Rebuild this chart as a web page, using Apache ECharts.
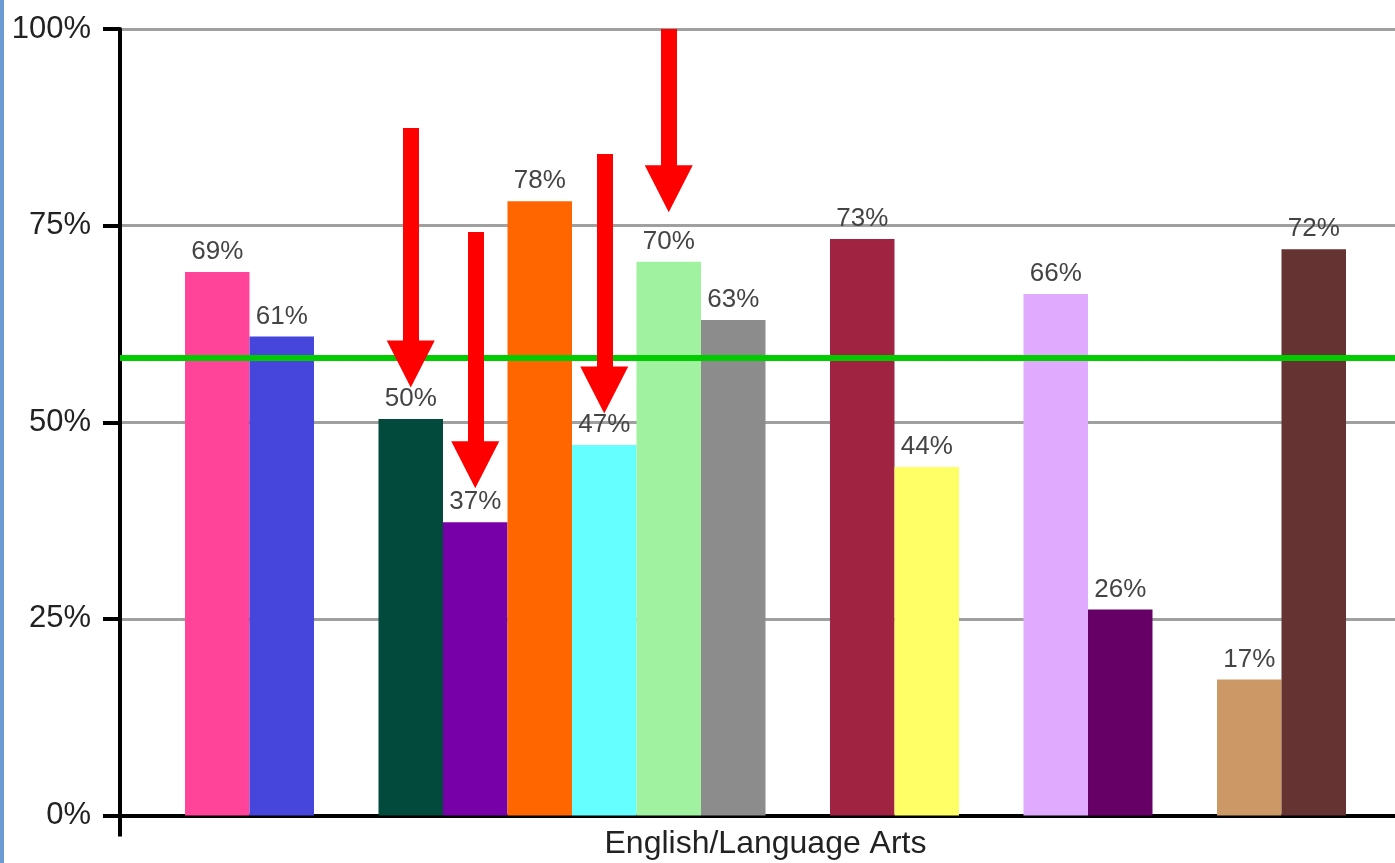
<!DOCTYPE html>
<html>
<head>
<meta charset="utf-8">
<script src="https://cdn.jsdelivr.net/npm/echarts@6/dist/echarts.min.js"></script>
<style>
  html, body { margin: 0; padding: 0; background: #fff; }
  #wrap { position: relative; width: 1395px; height: 863px; overflow: hidden; }
  #chart { width: 1395px; height: 863px; }
  #edge { position: absolute; left: 0; top: 0; width: 4px; height: 863px; background: #6b9bd1; }
</style>
</head>
<body>
<div id="wrap">
  <div id="chart"></div>
  <div id="edge"></div>
</div>
<script>
// one subject, 18 bar slots (null = empty slot between groups)
const categories = ['English/Language Arts']
const barValues = [69.1, 60.9, null, 50.4, 37.3, 78.1, 47.1, 70.4, 63.0, null, 73.3, 44.3, null, 66.3, 26.2, null, 17.3, 72.0]
const barColors = ['#ff4499', '#4646dc', '', '#024b3c', '#7800a8', '#ff6600', '#66ffff', '#a0f2a0', '#8c8c8c', '',
  '#a02442', '#ffff66', '', '#e0aaff', '#660066', '', '#cc9966', '#663333']
const yTicks = [0, 25, 50, 75, 100]
const targetLine = 58.2

// red arrows: bar slot, start value, end value
const arrowBars = [3, 4, 6, 7]
const arrowFrom = [87.4, 74.2, 84.1, 100]
const arrowTo = [57.4, 44.6, 54.1, 79.7]

const chart = echarts.init(document.getElementById('chart'))

const font = '"Liberation Sans", Arial, sans-serif'

const series = barValues.map((v, i) => {
  const s = {
    name: 'bar' + i,
    type: 'bar',
    data: [v],
    barGap: 0,
    barCategoryGap: '10.07%',
    itemStyle: { color: barColors[i] || '#fff' },
    label: {
      show: v != null,
      position: 'top',
      distance: 7,
      fontFamily: font,
      fontSize: 26,
      color: '#444',
      formatter: (p) => Math.round(p.value) + '%'
    },
    silent: true
  }
  const a = arrowBars.indexOf(i)
  if (a >= 0) {
    s.markLine = {
      silent: true,
      symbol: ['none', 'triangle'],
      symbolSize: [48, 47],
      label: { show: false },
      lineStyle: { color: '#ff0000', width: 16, type: 'solid' },
      z: 10,
      data: [[
        { coord: [categories[0], arrowFrom[a]] },
        { coord: [categories[0], arrowTo[a]] }
      ]]
    }
  }
  if (i === 0) {
    s.markLine = {
      silent: true,
      symbol: ['none', 'none'],
      label: { show: false },
      lineStyle: { color: '#00cc00', width: 6, type: 'solid' },
      data: [{ yAxis: targetLine }]
    }
  }
  return s
})

const option = {
  animation: false,
  grid: { left: 120, top: 29, width: 1291, bottom: 47.5, outerBoundsMode: 'none', containLabel: false },
  xAxis: {
    type: 'category',
    data: categories,
    axisLine: { lineStyle: { color: '#000', width: 4 } },
    axisTick: { show: true, length: 21, lineStyle: { color: '#000', width: 4 } },
    axisLabel: { margin: 13, fontFamily: font, fontSize: 32, color: '#222' }
  },
  yAxis: {
    type: 'value',
    min: yTicks[0],
    max: yTicks[yTicks.length - 1],
    interval: 25,
    axisLine: { show: true, lineStyle: { color: '#000', width: 4 } },
    axisTick: { show: true, length: 17, lineStyle: { color: '#000', width: 4 } },
    axisLabel: {
      margin: 29,
      fontFamily: font,
      fontSize: 31,
      color: '#222',
      padding: [0, 0, 10, 0],
      formatter: '{value}%'
    },
    splitLine: { lineStyle: { color: '#a0a0a0', width: 3 } }
  },
  series: series
}

chart.setOption(option)
</script>
</body>
</html>
